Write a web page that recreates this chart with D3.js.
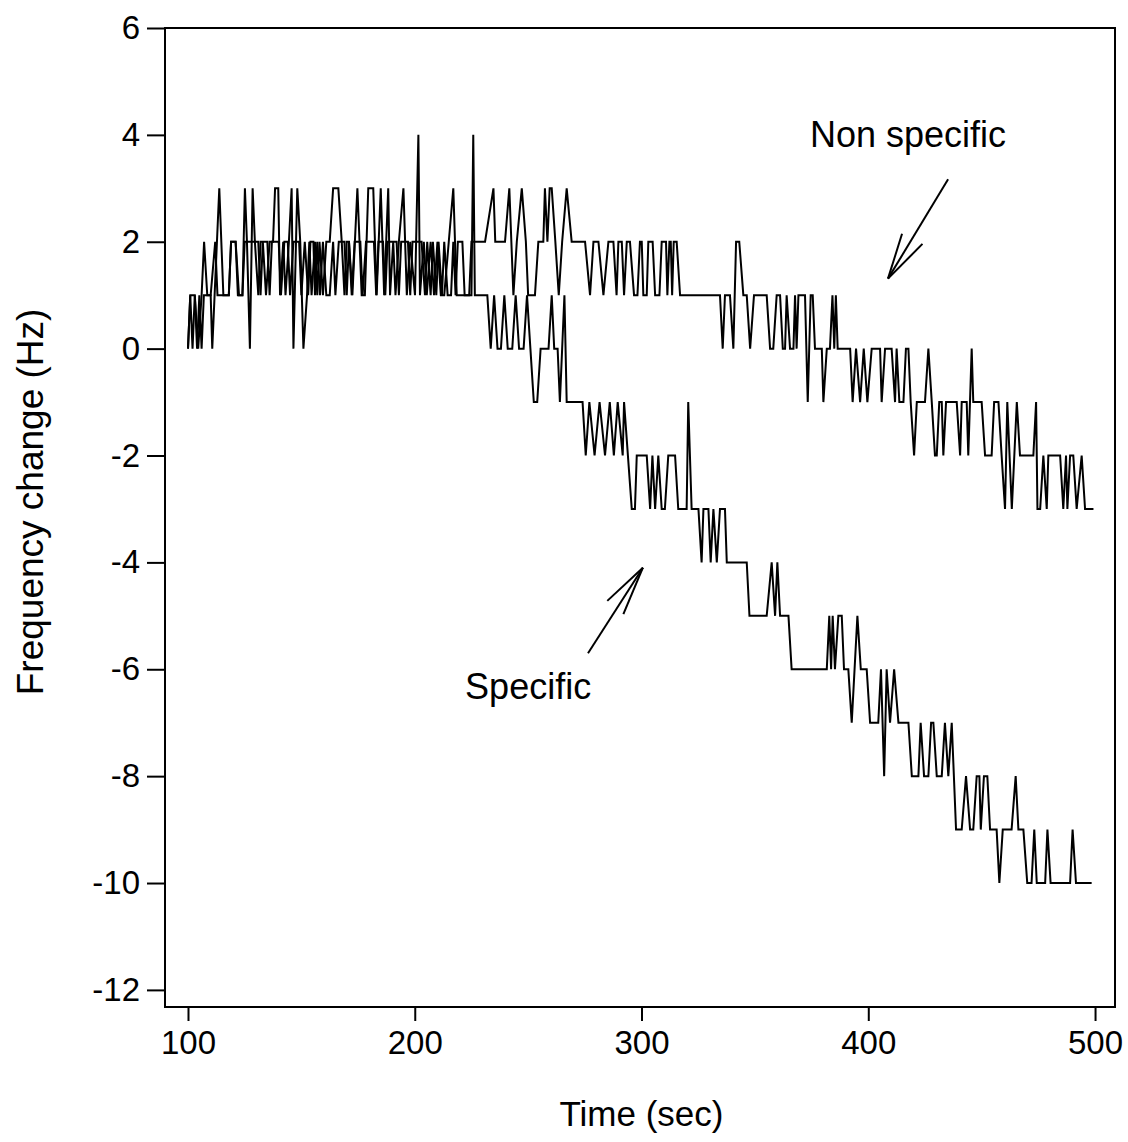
<!DOCTYPE html>
<html>
<head>
<meta charset="utf-8">
<script src="https://cdn.jsdelivr.net/npm/d3@7"></script>
<style>
  html, body { margin: 0; padding: 0; background: #fff; }
  svg { display: block; }
  text { font-family: "Liberation Sans", Arial, sans-serif; fill: #000; }
</style>
</head>
<body>
<svg id="chart" width="1128" height="1142"></svg>
<script>
// ---- Data (time in sec, frequency change in Hz) ----
const xTicks = [100, 200, 300, 400, 500];
const yTicks = [6, 4, 2, 0, -2, -4, -6, -8, -10, -12];

const nonSpecific = [
  [100,0],[101,1],[103,1],[104,0],[105,1],[106,0],[107,1],[110,1],[112,2],[113,1],[118,1],[119,2],[121,2],[122.5,1],[124,1],[125,2],[128,2],
  [129.5,2],[131,1],[132,2],[135,2],[136,1],[137,2],[140,2],[141,1],[142.5,2],[144,2],[145,1],[146.5,2],[149,2],[150,1],[151.5,2],[153,1],
  [154,2],[155.3,2],[156,1],[157,2],[158.2,1],[159.5,2],[161,1],[162.5,1],[164,2],[165,1],[166.5,2],[169,2],[170,1],[171,2],[172.2,1],
  [173.5,2],[176,2],[177,1],[178.5,2],[182,2],[183,1],[184,2],[186,2],[187,1],[188,2],[192,2],[193,1],[194,2],[197,2],[198,1],[199,2],
  [203,2],[204.5,1],[205.5,2],[207,1],[208,2],[209.5,1],[210.5,2],[212,1],[213,2],[214.5,1],[216,1],[217,2],
  [218,1],[219,2],[221,2],[222,1],[224,1],[225,2],[231,2],[234.7,3],[235.5,2],[239.8,2],[241.7,3],[243.5,1],[245,2],[247.2,3],[249,2],
  [250,1],[253,1],[254.5,2],[256.7,2],[257.4,3],[258.5,2],[259.5,3],[260.4,3],[262,2],[263.5,1],[265,2],[267,3],[269.2,2],[275.1,2],
  [277.3,1],[278.8,2],[281,2],[283.2,1],[285.4,2],[287.6,2],[289,1],[289.8,2],[291.3,2],[292.3,1],[293.5,2],[294.9,2],[296.7,1],[298.2,1],
  [299.3,2],[300.1,2],[300.8,1],[302.3,1],[303,2],[304.9,2],[306,1],[307.9,1],[308.9,2],[310.8,2],[311.4,1],[312.3,2],[312.9,2],[313.5,1],
  [314.2,2],[315.5,2],[317,1],[334.6,1],[335.8,0],[336.8,1],[339,1],[340.5,0],[341.7,2],[343.1,2],[344.9,1],[346.4,1],[347.9,0],[349.6,1],
  [355.2,1],[356.7,0],[358.1,0],[359.6,1],[361.1,1],[362.3,0],[363.3,0],[364,1],[365.5,0],[367,0],[367.7,1],[368.4,0],[369.2,1],[372.1,1],
  [373.3,-1],[374.6,1],[375.5,1],[376.5,0],[379.5,0],[380.2,-1],[381.7,0],[383.1,0],[384.2,1],[385,0],[385.7,1],[386.5,0],[392,0],[393.1,-1],
  [394.6,0],[396.4,-1],[398,0],[399.6,-1],[401.5,0],[405.2,0],[405.9,-1],[407.4,0],[410.3,0],[411.8,-1],[412.5,0],[413.7,-1],[415.5,-1],
  [416.6,0],[417.7,0],[418.7,-1],[420.2,-2],[421.4,-1],[425,-1],[426.5,0],[428,-1],[429.4,-2],[430.2,-2],[431.3,-1],[432.4,-1],[433.1,-2],
  [434.3,-1],[439,-1],[440.5,-2],[441.2,-1],[443.4,-1],[444.1,-2],[445.6,0],[446.3,-1],[450,-1],[451.5,-2],[454.4,-2],[455.5,-1],[457.4,-1],
  [458.8,-2],[460.3,-3],[461.3,-1],[463.3,-3],[465.5,-1],[466.9,-2],[472.8,-2],[474,-1],[474.6,-3],[475.8,-3],[477.2,-2],[478.7,-3],
  [479.4,-2],[484.6,-2],[486,-3],[487.2,-2],[487.8,-3],[489,-2],[490.4,-2],[491.9,-3],[494.1,-2],[495.6,-3],[499.3,-3]
];

const specific = [
  [100,0],[101,1],[102,0],[103,1],[104.5,0],[106,1],[107.1,2],[108.5,1],[110,1],[110.7,0],[113.8,3],[115.6,1],[118,1],[119,2],[121,2],
  [122,1],[124,1],[125.1,3],[126,2],[127.3,0],[128.5,3],[129.5,2],[131,2],[132,1],[133,2],[134.4,1],[136,2],[137.5,2],[138.4,3],[139.8,3],
  [140.6,1],[142,2],[143,1],[144.5,2],[145.7,3],[146.5,0],[148.2,3],[149.5,2],[150.9,0],[152.5,1],[153.5,2],[154.5,1],[156,2],[157,1],
  [158,2],[159.5,1],[161,2],[162.5,2],[164,3],[166.3,3],[167.8,2],[169,1],[170,2],[171,2],[172.5,1],[174.7,3],[176.6,1],[178,1],[179.5,3],
  [181.7,3],[183.2,1],[185,3],[186.5,1],[188.3,3],[189.1,1],[190.5,2],[191.5,1],[193,2],[195,3],[196.5,1],[198,2],[200.1,1],[201.6,4],
  [202.3,1],[204,2],[205.3,1],[207,2],[208.5,1],[210,2],[211.5,1],[213,1],[215,2],[217,3],[218.5,1],
  [225,1],[225.8,4],[226.5,1],[232,1],[233.5,0],[235,1],[236.5,0],[238,0],[239.5,1],[241,0],[243,0],[244.5,1],[246,0],[248,0],[249.5,1],
  [251,0],[252.5,-1],[254,-1],[255.5,0],[259,0],[260.4,1],[261.5,0],[263,0],[264,-1],[265,0],[266,1],[267,-1],[274,-1],[275.4,-2],[277,-1],
  [279.3,-2],[281.5,-1],[283.9,-2],[286,-1],[287.8,-2],[289.5,-1],[291.7,-2],[292.3,-1],[295.7,-3],[297.1,-3],[297.9,-2],[302.3,-2],
  [303.8,-3],[304.8,-2],[306,-3],[307.4,-2],[308.9,-3],[310.3,-3],[311.8,-2],[314.8,-2],[316.2,-3],[319.9,-3],[320.6,-1],[322.1,-3],
  [325.1,-3],[326.5,-4],[327.3,-3],[329.5,-3],[330.5,-4],[331.7,-3],[333.2,-4],[334.6,-3],[336.8,-3],[337.6,-4],[346.4,-4],[347.6,-5],
  [355.2,-5],[357.4,-4],[358.9,-5],[359.9,-4],[361.1,-5],[364.8,-5],[366.2,-6],[381.7,-6],[382.8,-5],[383.6,-6],[384.3,-5],[385.3,-6],
  [386.8,-5],[388.3,-5],[389.3,-6],[391.2,-6],[392.7,-7],[395.2,-5],[396.7,-6],[399.3,-6],[400.8,-7],[404.4,-7],[405.6,-6],[407,-8],
  [408.1,-6],[409.6,-7],[411.4,-6],[413.3,-7],[417.7,-7],[419.2,-8],[422.1,-8],[423.1,-7],[424.6,-8],[426.5,-8],[427.7,-7],[428.7,-7],
  [430.2,-8],[432.4,-8],[433.8,-7],[435.3,-8],[436.8,-7],[438.7,-9],[441.2,-9],[443.1,-8],[444.9,-9],[446.3,-9],[447.8,-8],[449,-8],
  [449.6,-9],[451,-8],[452.5,-8],[453.7,-9],[456.6,-9],[457.8,-10],[459.3,-9],[463.2,-9],[465,-8],[466.2,-9],[468.4,-9],[470.1,-10],
  [472,-10],[473.2,-9],[474.3,-10],[478,-10],[479,-9],[480.4,-10],[489,-10],[490.1,-9],[491.6,-10],[498.5,-10]
];

// annotations: label text, anchor point (data coords), arrow tail/tip/barbs (data coords)
const labels = [
  { text: "Non specific", t: 417.5, v: 3.78, size: 36 },
  { text: "Specific",     t: 250.0, v: -6.56, size: 36 }
];
const arrows = [
  { from: [435.2, 3.17], to: [408.7, 1.31], barbs: [[414.9, 2.15], [423.9, 1.96]] },
  { from: [276.4, -5.70], to: [300.6, -4.10], barbs: [[284.9, -4.72], [292.0, -4.97]] }
];

// ---- Layout ----
const svg = d3.select("#chart");
const L = 165, R = 1115, T = 28, B = 1007;

const x = d3.scaleLinear().domain([89.86, 508.8]).range([L, R]);
const y = d3.scaleLinear().domain([-12.32, 6]).range([B, T]);
const fmt = d => String(d);

// frame
svg.append("rect")
  .attr("x", L).attr("y", T).attr("width", R - L).attr("height", B - T)
  .attr("fill", "none").attr("stroke", "#000").attr("stroke-width", 2);

// y axis
const yAxis = d3.axisLeft(y).tickValues(yTicks).tickSize(18).tickPadding(7).tickFormat(fmt);
const gy = svg.append("g").attr("transform", `translate(${L},0)`).call(yAxis);
gy.select(".domain").remove();
gy.selectAll("line").attr("stroke", "#000").attr("stroke-width", 2);
gy.selectAll("text").style("font-size", "33px").attr("font-family", "Liberation Sans, Arial, sans-serif");

// x axis
const xAxis = d3.axisBottom(x).tickValues(xTicks).tickSize(14).tickPadding(10).tickFormat(fmt);
const gx = svg.append("g").attr("transform", `translate(0,${B})`).call(xAxis);
gx.select(".domain").remove();
gx.selectAll("line").attr("stroke", "#000").attr("stroke-width", 2);
gx.selectAll("text").style("font-size", "33px").attr("font-family", "Liberation Sans, Arial, sans-serif");

// axis titles
svg.append("text")
  .attr("x", (x(100) + x(500)) / 2).attr("y", 1126)
  .attr("text-anchor", "middle").style("font-size", "35px")
  .text("Time (sec)");
svg.append("text")
  .attr("transform", `translate(43,${(y(6) + y(-12)) / 2 - 7}) rotate(-90)`)
  .attr("text-anchor", "middle").style("font-size", "37px")
  .text("Frequency change (Hz)");

// lines
const line = d3.line().x(d => x(d[0])).y(d => y(d[1]));
[nonSpecific, specific].forEach(series => {
  svg.append("path")
    .datum(series)
    .attr("d", line)
    .attr("fill", "none")
    .attr("stroke", "#000")
    .attr("stroke-width", 2)
    .attr("stroke-linejoin", "miter");
});

// annotation labels
labels.forEach(l => {
  svg.append("text")
    .attr("x", x(l.t)).attr("y", y(l.v))
    .attr("text-anchor", "middle").style("font-size", l.size + "px")
    .text(l.text);
});

// arrows
arrows.forEach(a => {
  const g = svg.append("g").attr("stroke", "#000").attr("stroke-width", 2).attr("fill", "none");
  g.append("line")
    .attr("x1", x(a.from[0])).attr("y1", y(a.from[1]))
    .attr("x2", x(a.to[0])).attr("y2", y(a.to[1]));
  a.barbs.forEach(b => {
    g.append("line")
      .attr("x1", x(a.to[0])).attr("y1", y(a.to[1]))
      .attr("x2", x(b[0])).attr("y2", y(b[1]));
  });
});
</script>
</body>
</html>
